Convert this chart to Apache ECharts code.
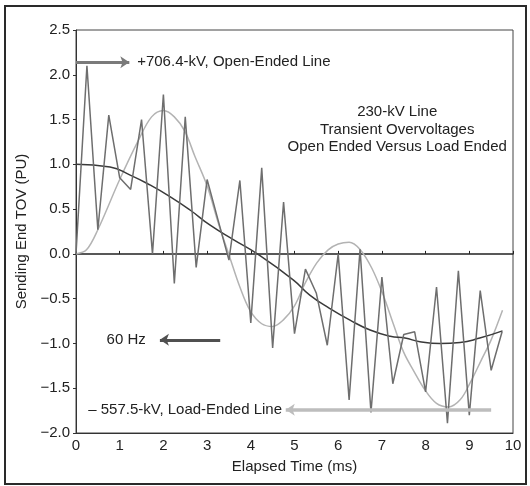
<!DOCTYPE html>
<html>
<head>
<meta charset="utf-8">
<script src="https://cdn.jsdelivr.net/npm/echarts@6/dist/echarts.min.js"></script>
<style>
html,body{margin:0;padding:0;background:#fff;}
#c{width:530px;height:486px;}
</style>
</head>
<body>
<div id="c"></div>
<script>
// Open-ended line (sampled every 0.25 ms)
var openTimes = [0,0.25,0.5,0.75,1,1.25,1.5,1.75,2,2.25,2.5,2.75,3,3.25,3.5,3.75,4,4.25,4.5,4.75,5,5.25,5.5,5.75,6,6.25,6.5,6.75,7,7.25,7.5,7.75,8,8.25,8.5,8.75,9,9.25,9.5,9.75];
var openValues = [0,2.10,0.27,1.55,0.85,0.72,1.50,0.0,1.78,-0.33,1.53,-0.15,0.83,0.38,-0.07,0.82,-0.77,0.96,-1.05,0.58,-0.89,-0.17,-0.44,-1.02,0.0,-1.63,0.05,-1.77,-0.26,-1.45,-0.90,-0.87,-1.54,-0.37,-1.89,-0.19,-1.80,-0.41,-1.30,-0.87];
// Load-ended line
var loadTimes = [0,0.24,0.5,1.0,1.43,1.73,2.0,2.25,2.49,2.72,3.0,3.26,3.52,3.75,3.98,4.25,4.5,4.74,5.0,5.24,5.51,5.77,6.0,6.25,6.5,6.77,7.03,7.26,7.5,7.72,8.0,8.25,8.52,8.79,9.03,9.28,9.5,9.76];
var loadValues = [0,0.045,0.27,0.83,1.27,1.53,1.60,1.53,1.37,1.09,0.76,0.34,-0.04,-0.37,-0.63,-0.78,-0.81,-0.74,-0.58,-0.33,-0.10,0.045,0.11,0.13,0.05,-0.16,-0.46,-0.78,-1.10,-1.30,-1.53,-1.67,-1.71,-1.63,-1.43,-1.18,-0.96,-0.63];
// 60 Hz
var freqTimes = [0,0.78,1.24,1.69,2.15,2.61,3.07,3.6,4.15,4.97,5.35,5.81,6.27,6.73,7.19,7.53,7.87,8.33,8.79,9.24,9.76];
var freqValues = [1.0,0.97,0.88,0.77,0.64,0.49,0.32,0.16,0.0,-0.29,-0.46,-0.61,-0.74,-0.85,-0.92,-0.94,-0.98,-1.0,-0.99,-0.94,-0.86];
// axis ticks
var xTicks = [0,1,2,3,4,5,6,7,8,9,10];
var yTicks = [-2.0,-1.5,-1.0,-0.5,0.0,0.5,1.0,1.5,2.0,2.5];

function zip(a,b){return a.map(function(v,i){return [v,b[i]];});}

var FONT = '"Liberation Sans", Arial, sans-serif';
var chart = echarts.init(document.getElementById('c'));

var option = {
  backgroundColor:'#fff',
  animation:false,
  grid:{left:76,right:17,top:30,bottom:53,show:true,borderColor:'#444',borderWidth:1,backgroundColor:'transparent'},
  xAxis:[{
    type:'value',min:xTicks[0],max:xTicks[xTicks.length-1],interval:1,
    position:'bottom',
    axisLine:{onZero:false,lineStyle:{color:'#333',width:1}},
    axisTick:{show:false},
    splitLine:{show:false},
    axisLabel:{color:'#222',fontSize:15,fontFamily:FONT,margin:5},
    name:'Elapsed Time (ms)',nameLocation:'middle',nameGap:26,
    nameTextStyle:{color:'#222',fontSize:15,fontFamily:FONT}
  },{
    type:'value',min:xTicks[0],max:xTicks[xTicks.length-1],interval:1,
    position:'bottom',
    axisLine:{show:true,onZero:true,lineStyle:{color:'#222',width:1.5}},
    axisTick:{show:true,inside:true,length:3,lineStyle:{color:'#222',width:1}},
    axisLabel:{show:false},
    splitLine:{show:false}
  }],
  yAxis:{
    type:'value',min:yTicks[0],max:yTicks[yTicks.length-1],interval:0.5,
    axisLine:{show:true,lineStyle:{color:'#333',width:1}},
    axisTick:{show:true,length:3,lineStyle:{color:'#333'}},
    splitLine:{show:false},
    axisLabel:{color:'#222',fontSize:15,fontFamily:FONT,margin:6,
      formatter:function(v){var s=Math.abs(v).toFixed(1);return v<0?'\u2212'+s:s;}},
    name:'Sending End TOV (PU)',nameLocation:'middle',nameGap:35,
    nameTextStyle:{color:'#222',fontSize:15,fontFamily:FONT}
  },
  series:[
    {
      name:'Load-Ended',type:'line',data:zip(loadTimes,loadValues),smooth:0.35,showSymbol:false,
      lineStyle:{color:'#b3b3b3',width:1.5},z:2,
      markLine:{silent:true,symbol:['arrow','none'],symbolSize:[9,9],label:{show:false},
        lineStyle:{color:'#bdbdbd',width:3.5,type:'solid'},
        data:[[{coord:[4.8,-1.74]},{coord:[9.5,-1.74]}]]}
    },
    {
      name:'60 Hz',type:'line',data:zip(freqTimes,freqValues),smooth:0.5,showSymbol:false,
      lineStyle:{color:'#3a3a3a',width:1.5},z:3,
      markLine:{silent:true,symbol:['arrow','none'],symbolSize:[9,9],label:{show:false},
        lineStyle:{color:'#505050',width:3,type:'solid'},
        data:[[{coord:[1.92,-0.96]},{coord:[3.3,-0.96]}]]}
    },
    {
      name:'Open-Ended',type:'line',data:zip(openTimes,openValues),showSymbol:false,
      lineStyle:{color:'#6e6e6e',width:1.5},z:4,
      markLine:{silent:true,symbol:['none','arrow'],symbolSize:[9,9],label:{show:false},
        lineStyle:{color:'#7a7a7a',width:3,type:'solid'},
        data:[[{coord:[0,2.14]},{coord:[1.22,2.14]}]]}
    }
  ]
};
chart.setOption(option);

function px(x,y){return chart.convertToPixel({xAxisIndex:0,yAxisIndex:0},[x,y]);}
var p1 = px(1.4,2.14), p2 = px(7.35,1.385), p3 = px(0.7,-0.96), p4 = px(0.28,-1.74);
var ts = {fill:'#222',fontSize:15,fontFamily:FONT};
chart.setOption({graphic:[
  {type:'rect',shape:{x:5,y:6,width:521,height:478},style:{fill:'none',stroke:'#2a2a2a',lineWidth:2},silent:true},
  {type:'text',x:p1[0],y:p1[1],style:Object.assign({text:'+706.4-kV, Open-Ended Line',textVerticalAlign:'middle'},ts)},
  {type:'text',x:p2[0],y:p2[1],style:Object.assign({text:'230-kV Line\nTransient Overvoltages\nOpen Ended Versus Load Ended',textAlign:'center',textVerticalAlign:'middle',lineHeight:17.5},ts)},
  {type:'text',x:p3[0],y:p3[1],style:Object.assign({text:'60 Hz',textVerticalAlign:'middle'},ts)},
  {type:'text',x:p4[0],y:p4[1],style:Object.assign({text:'\u2013 557.5-kV, Load-Ended Line',textVerticalAlign:'middle'},ts)}
]});
</script>
</body>
</html>
